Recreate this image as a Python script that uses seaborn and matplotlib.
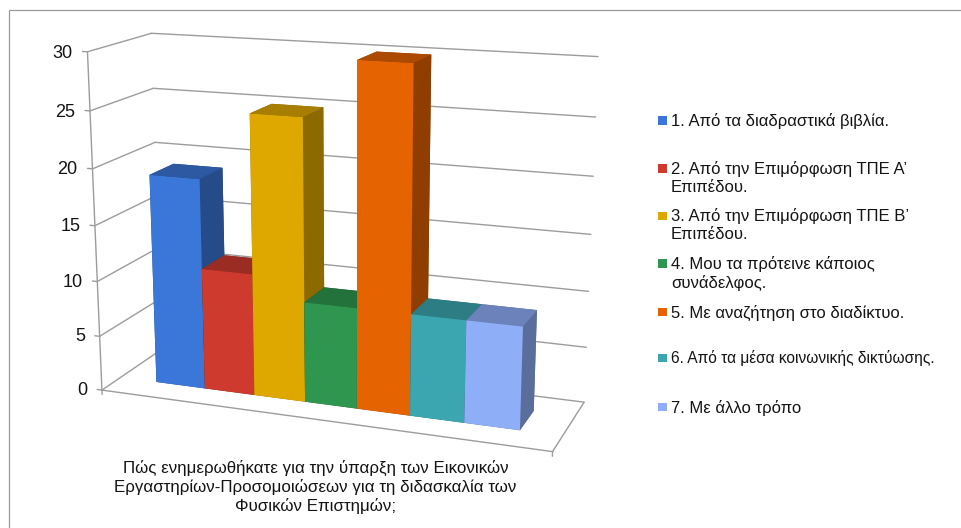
import numpy as np
import matplotlib
matplotlib.use("Agg")
import matplotlib.pyplot as plt
from matplotlib.patches import Rectangle
from mpl_toolkits.mplot3d import Axes3D  # noqa: F401
import seaborn as sns

# Survey responses
categories = [
    "1. Από τα διαδραστικά βιβλία.",
    "2. Από την Επιμόρφωση ΤΠΕ Α’\nΕπιπέδου.",
    "3. Από την Επιμόρφωση ΤΠΕ Β’\nΕπιπέδου.",
    "4. Μου τα πρότεινε κάποιος\nσυνάδελφος.",
    "5. Με αναζήτηση στο διαδίκτυο.",
    "6. Από τα μέσα κοινωνικής δικτύωσης.",
    "7. Με άλλο τρόπο",
]
values = [19, 11, 25, 9, 30, 9, 9]
colors = ["#3A77D8", "#CE3A2E", "#DFA800", "#2E964E", "#E56300", "#3BA6B0", "#8FAEF8"]
yticks = [0, 5, 10, 15, 20, 25, 30]
xlabel = ("Πώς ενημερωθήκατε για την ύπαρξη των Εικονικών\n"
          "Εργαστηρίων-Προσομοιώσεων για τη διδασκαλία των\n"
          "Φυσικών Επιστημών;")

W, H = 962, 528
GAP = 0.75                        # side gap, in bar widths
X_END = len(values) + 2 * GAP
D_FRONT, D_BACK = 0.30, 0.70      # bar depth inside the floor
GRID = "#9C9C9C"
INK = "#141414"

sns.set_theme(style="white")
plt.rcParams["font.family"] = ["Liberation Sans", "DejaVu Sans"]

fig = plt.figure(figsize=(W / 100, H / 100), dpi=100, facecolor="white")
ax = fig.add_axes([0, -(W - H) / 2 / H, 1, W / H], projection="3d")
ax.set_xticks([])
ax.set_yticks([])
ax.set_zticks([])
ax.set_axis_off()
ax.patch.set_visible(False)
ax.computed_zorder = False
ax.apply_aspect()

# Camera of the chart: solved from where the box corners sit on the canvas.
world = np.array([
    (0, 0, 0), (0, 0, 5), (0, 0, 10), (0, 0, 15), (0, 0, 20), (0, 0, 25), (0, 0, 30),
    (0, 1, 30), (0, 1, 25), (0, 1, 20), (0, 1, 0),
    (X_END, 1, 30), (X_END, 1, 25), (X_END, 1, 20), (X_END, 1, 10), (X_END, 1, 5),
    (X_END, 1, 0), (X_END, 0, 0),
], dtype=float)
canvas = np.array([
    (101.7, 390.7), (99.5, 336.7), (97.5, 281), (95.5, 225), (92.5, 169), (90, 110.7), (87.3, 52),
    (151.7, 33.3), (152.7, 88.3), (155, 142.7), (162, 349),
    (598.3, 56.7), (595.7, 117.3), (593.3, 176), (588.3, 291), (586.7, 347.3),
    (584, 402.3), (552.3, 451.7),
], dtype=float)


def solve_camera(pts3, pts2):
    rows = []
    for (x, y, z), (u, v) in zip(pts3, pts2):
        p = [x, y, z, 1]
        rows.append(p + [0, 0, 0, 0] + [-u * c for c in p])
        rows.append([0, 0, 0, 0] + p + [-v * c for c in p])
    _, _, vt = np.linalg.svd(np.array(rows))
    cam = vt[-1].reshape(3, 4)
    if cam[2] @ np.array([0, 0, 0, 1]) < 0:
        cam = -cam
    return cam / cam[2, 3]


cam = solve_camera(world, canvas)
inv = ax.transData.inverted()
(o_u, o_v), (e_u, e_v) = inv.transform([(0, H), (W, 0)])   # canvas (0,0) and (W,H)
a, b = (e_u - o_u) / W, o_u
c, d = (e_v - o_v) / H, o_v
M = np.vstack([
    a * cam[0] + b * cam[2],
    c * cam[1] + d * cam[2],
    [0, 0, 0, -1],
    cam[2],
])
ax.get_proj = lambda: M


def to_figure(x, depth, z):
    """Figure-fraction position of a point of the 3D box."""
    p = cam @ np.array([x, depth, z, 1.0])
    return p[0] / p[2] / W, 1 - p[1] / p[2] / H


def line(xs, ds, zs, **kw):
    ax.plot(xs, ds, zs, color=GRID, lw=1.0, zorder=1, **kw)


# Walls, floor edges and tick stubs
for level in yticks:
    line([0, 0], [0, 1], [level, level])
    line([0, X_END], [1, 1], [level, level])
    line([-0.1, 0], [0, 0], [level, level])
    fx, fy = to_figure(-0.30, 0, level - 0.2)
    fig.text(fx, fy, str(level), ha="right", va="center", fontsize=13, color=INK)
line([0, 0], [0, 0], [0, 30])
line([0, X_END], [0, 0], [0, 0])
line([X_END, X_END], [0, 1], [0, 0])
line([0, 0], [0, 0], [0, -0.4])
line([X_END, X_END], [0, 0], [0, -0.4])

# Bars, painted left to right since the viewer sits on the right side.
for i, (val, col) in enumerate(zip(values, colors)):
    rgb = np.array(matplotlib.colors.to_rgb(col))
    top, side = rgb * 0.75, rgb * 0.63
    #        bottom  top  front  back  left  right
    faces = [tuple(side), tuple(top), tuple(rgb), tuple(side), tuple(side), tuple(side)]
    ax.bar3d(GAP + i, D_FRONT, 0, 1, D_BACK - D_FRONT, val, color=faces,
             shade=False, linewidth=0, zorder=2 + i * 0.1)

# Legend entries sit on a fixed row pitch, whatever their line count.
legend_rows = [120.5, 168.5, 216, 263.5, 312, 358, 407]
legend_sizes = [12, 12, 12, 12, 12, 11.2, 12]
for label, col, y, size in zip(categories, colors, legend_rows, legend_sizes):
    fig.add_artist(Rectangle((658.3 / W, 1 - (y + 4.2) / H), 8.4 / W, 8.4 / H,
                             transform=fig.transFigure, facecolor=col, edgecolor="none"))
    fig.text(671 / W, 1 - (y - 7.5) / H, label, ha="left", va="top", fontsize=size,
             color=INK, linespacing=1.21)

fig.text(315.5 / W, 1 - 459.5 / H, xlabel, ha="center", va="top", fontsize=12.2,
         color=INK, linespacing=1.24)

# Panel outline
fig.add_artist(Rectangle((8.5 / W, -0.1), 1.2, 1.1 - 10.5 / H, transform=fig.transFigure,
                         facecolor="none", edgecolor="#9A9A9A", lw=0.9))

fig.savefig("out.png", dpi=100, facecolor="white")
